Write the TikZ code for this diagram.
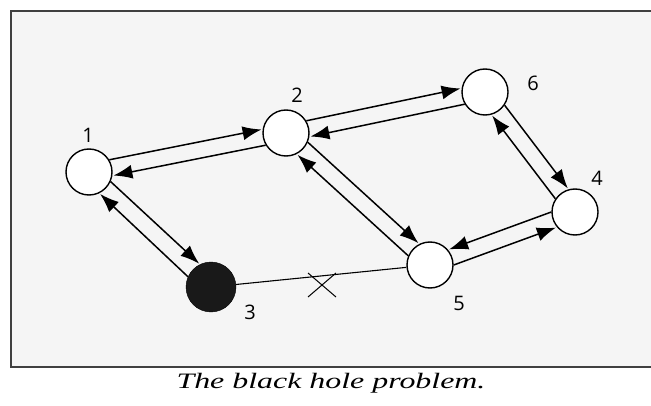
\documentclass[tikz,border=0pt]{standalone}
\usepackage{fontspec}
\setmainfont{Liberation Serif}
\newfontfamily\labelfont{Open Sans}
\usetikzlibrary{arrows.meta,calc}
\begin{document}
\begin{tikzpicture}[x=1pt,y=1pt,
  vertex/.style={circle,draw=black,line width=1.4pt,fill=white,minimum size=46pt,inner sep=0pt},
  hole/.style={circle,draw=black,fill=black!90,minimum size=50pt,inner sep=0pt},
  lab/.style={font=\labelfont\fontsize{20}{20}\selectfont,inner sep=0pt},
  arr/.style={line width=1.5pt,-{Latex[length=19pt,width=14pt]},shorten >=1pt},
  link/.style={line width=1.1pt}]
\useasboundingbox (0,0) rectangle (651,405);
\fill[black!4] (11,38) rectangle (651,394);
\draw[line width=1.5pt,black!75] (651,394) -- (11,394) -- (11,38) -- (651,38);
\node[vertex] (n1) at (89,233) {};
\node[vertex] (n2) at (286,272) {};
\node[vertex] (n6) at (485,313) {};
\node[vertex] (n4) at (575,193) {};
\node[vertex] (n5) at (430,140) {};
\node[hole] (n3) at (211,118) {};
\node[lab] (l1) at (88,270) {1};
\node[lab] (l2) at (297,310) {2};
\node[lab] (l6) at (533,322) {6};
\node[lab] (l4) at (597,227) {4};
\node[lab] (l5) at (459,102) {5};
\node[lab] (l3) at (250,93) {3};
% 1 <-> 2
\draw[arr] (n1.31.2) -- (n2.171.2);
\draw[arr] (n2.211.2) -- (n1.351.2);
% 2 <-> 6
\draw[arr] (n2.31.6) -- (n6.171.6);
\draw[arr] (n6.211.6) -- (n2.351.6);
% 6 <-> 4
\draw[arr] (n6.326.9) -- (n4.106.9);
\draw[arr] (n4.146.9) -- (n6.286.9);
% 2 <-> 5
\draw[arr] (n2.337.5) -- (n5.117.5);
\draw[arr] (n5.157.5) -- (n2.297.5);
% 1 <-> 3
\draw[arr] (n1.336.7) -- (n3.116.7);
\draw[arr] (n3.156.7) -- (n1.296.7);
% 4 <-> 5
\draw[arr] (n4.180.1) -- (n5.40.1);
\draw[arr] (n5.0.1) -- (n4.220.1);
% broken link 3 -- 5
\draw[link] (n3) -- (n5);
\coordinate (cut) at (322,120);
\draw[line width=1pt] ($(cut)+(-14,-12)$) -- ($(cut)+(14,12)$);
\draw[line width=1pt] ($(cut)+(-14,12)$) -- ($(cut)+(14,-12)$);
\node[font=\itshape\fontsize{22}{22}\selectfont,xscale=1.45,inner sep=0pt] (cap) at (331,22) {The black hole problem.};
\end{tikzpicture}
\end{document}
